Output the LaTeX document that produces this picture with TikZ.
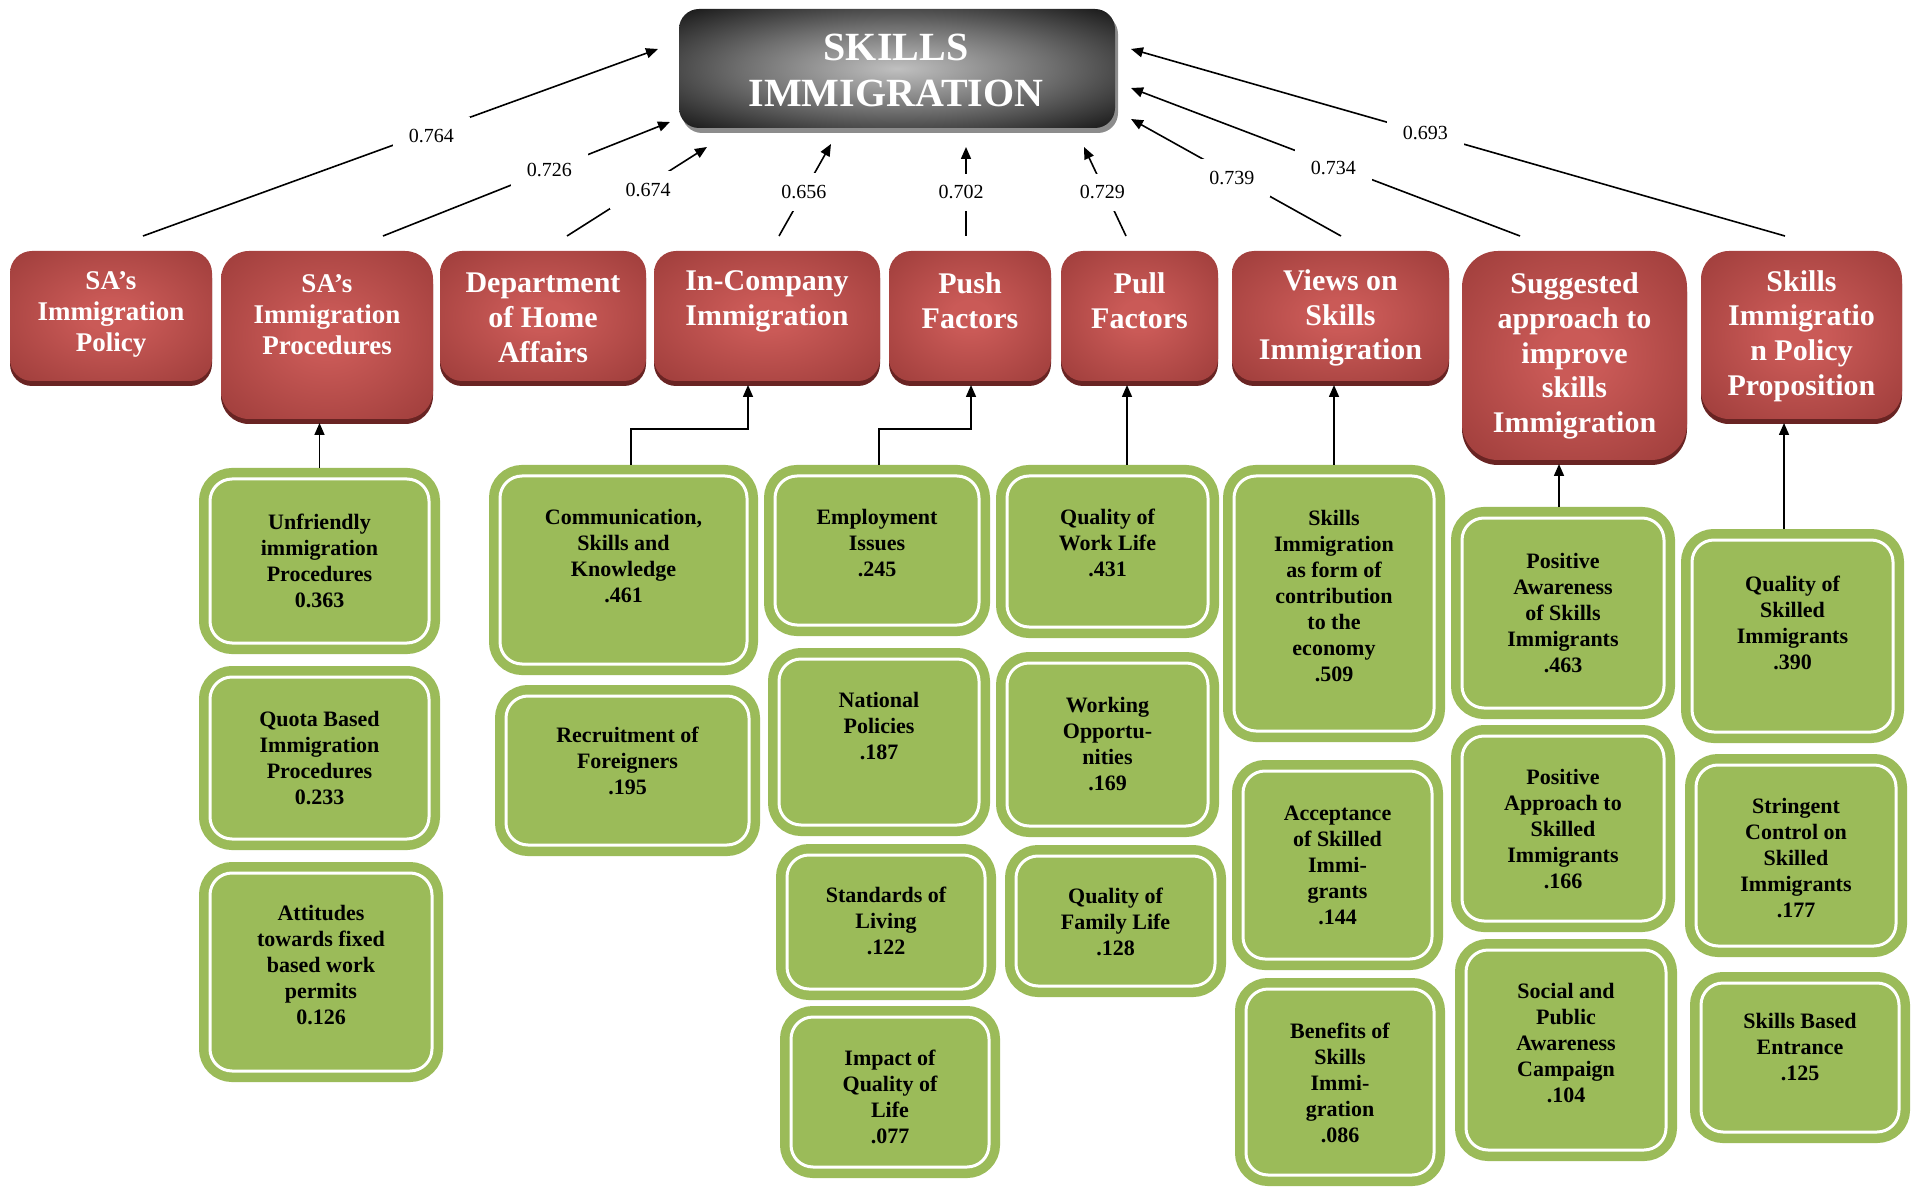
\documentclass[tikz,border=0pt]{standalone}
\usepackage{fontspec}
\setmainfont{Liberation Serif}
\usetikzlibrary{arrows.meta,shadows,calc}

\definecolor{redin}{RGB}{202,90,87}
\definecolor{redout}{RGB}{146,53,51}
\definecolor{redshadow}{RGB}{105,36,35}
\definecolor{grn}{RGB}{155,187,89}
\definecolor{cin}{RGB}{192,192,192}
\definecolor{cmid}{RGB}{110,110,110}
\definecolor{cshadow}{RGB}{140,140,140}

\pgfdeclareradialshading{redglow}{\pgfpoint{0bp}{0bp}}{color(0bp)=(redin); color(6bp)=(redin); color(44bp)=(redout); color(50bp)=(redout)}
\pgfdeclareradialshading{blackglow}{\pgfpoint{0bp}{0bp}}{color(0bp)=(cin); color(18bp)=(cmid); color(40bp)=(black); color(50bp)=(black)}

\begin{document}
\begin{tikzpicture}[x=0.5pt,y=-0.5pt,
  redbox/.style={shade, shading=redglow, general shadow={fill=redshadow, shadow yshift=-2.5pt}, inner sep=0pt, outer sep=0pt, rounded corners=11pt},
  cbox/.style={shade, shading=blackglow, general shadow={fill=cshadow, shadow xshift=1.5pt, shadow yshift=-2.5pt}, inner sep=0pt, outer sep=0pt, rounded corners=10pt},
  gbox/.style={fill=grn, draw=white, line width=1.5pt, preaction={draw=grn, line width=11pt}, outer sep=5.5pt, inner sep=0pt, rounded corners=11pt},
  redtxt/.style={text=white, font=\fontsize{13.5}{15.5}\selectfont\bfseries, align=center, inner sep=0pt},
  redbig/.style={redtxt, font=\fontsize{15}{17.4}\selectfont\bfseries},
  gtxt/.style={text=black, font=\fontsize{11}{13}\selectfont\bfseries, align=center, inner sep=0pt},
  ctxt/.style={text=white, font=\fontsize{20}{23}\selectfont\bfseries, align=center, inner sep=0pt},
  lbl/.style={font=\fontsize{10}{12}\selectfont, fill=white, inner xsep=8pt, inner ysep=6pt},
  arr/.style={line width=0.8pt, -{Triangle[length=6pt,width=5pt]}},
  con/.style={line width=0.8pt, -{Triangle[length=6pt,width=5pt]}}
]
\useasboundingbox (0,0) rectangle (1917,1187);

% central node
\node[cbox, minimum width=218pt, minimum height=59.5pt] (si) at (897,68.5) {};
\node[ctxt] (sit) at (896,70) {SKILLS\\IMMIGRATION};

% red category nodes
\node[redbox, minimum width=101pt, minimum height=65pt] (r1) at (111,316) {};
\node[redbox, minimum width=106pt, minimum height=84pt, rounded corners=14pt] (r2) at (327,335) {};
\node[redbox, minimum width=103pt, minimum height=65pt] (r3) at (543,316) {};
\node[redbox, minimum width=113pt, minimum height=65pt] (r4) at (767,316) {};
\node[redbox, minimum width=81pt, minimum height=65pt] (r5) at (970,316) {};
\node[redbox, minimum width=78.5pt, minimum height=65pt] (r6) at (1139.5,316) {};
\node[redbox, minimum width=108.5pt, minimum height=65pt] (r7) at (1340.5,316) {};
\node[redbox, minimum width=112.5pt, minimum height=104.5pt, rounded corners=18pt] (r8) at (1574.5,355.5) {};
\node[redbox, minimum width=100.5pt, minimum height=84pt, rounded corners=14pt] (r9) at (1801.5,335) {};

\node[redtxt] (r1t) at (111,314) {SA’s\\Immigration\\Policy};
\node[redtxt] (r2t) at (327,315) {SA’s\\Immigration\\Procedures};
\node[redbig] (r3t) at (543,318) {Department\\of Home\\Affairs};
\node[redbig] (r4t) at (767,301) {In-Company\\Immigration};
\node[redbig] (r5t) at (970,301) {Push\\Factors};
\node[redbig] (r6t) at (1139.5,301) {Pull\\Factors};
\node[redbig] (r7t) at (1340.5,318) {Views on\\Skills\\Immigration};
\node[redbig] (r8t) at (1574.5,356) {Suggested\\approach to\\improve\\skills\\Immigration};
\node[redbig] (r9t) at (1801.5,336) {Skills\\Immigratio\\n Policy\\Proposition};

% green factor nodes
\node[gbox, minimum width=109.5pt, minimum height=82pt] (g21) at (319.5,561) {};
\node[gbox, minimum width=109.5pt, minimum height=81pt] (g22) at (319.5,758) {};
\node[gbox, minimum width=111pt, minimum height=99pt] (g23) at (321,972) {};
\node[gbox, minimum width=123.5pt, minimum height=94pt] (g41) at (623.5,570) {};
\node[gbox, minimum width=121.5pt, minimum height=74.5pt] (g42) at (627.5,770.5) {};
\node[gbox, minimum width=102pt, minimum height=74.5pt] (g51) at (877,550.5) {};
\node[gbox, minimum width=100pt, minimum height=83pt] (g52) at (879,742) {};
\node[gbox, minimum width=99pt, minimum height=67pt] (g53) at (886,922) {};
\node[gbox, minimum width=99pt, minimum height=75pt] (g54) at (890,1092) {};
\node[gbox, minimum width=100.5pt, minimum height=75.5pt] (g61) at (1107.5,551.5) {};
\node[gbox, minimum width=100.5pt, minimum height=81.5pt] (g62) at (1107.5,744.5) {};
\node[gbox, minimum width=99.5pt, minimum height=65pt] (g63) at (1115.5,921) {};
\node[gbox, minimum width=100pt, minimum height=127.5pt] (g71) at (1334,603.5) {};
\node[gbox, minimum width=94.5pt, minimum height=94pt] (g72) at (1337.5,865) {};
\node[gbox, minimum width=94pt, minimum height=93pt] (g73) at (1340,1082) {};
\node[gbox, minimum width=101pt, minimum height=95pt] (g81) at (1563,613) {};
\node[gbox, minimum width=101pt, minimum height=92.5pt] (g82) at (1563,828.5) {};
\node[gbox, minimum width=100pt, minimum height=100pt] (g83) at (1566,1050) {};
\node[gbox, minimum width=100.5pt, minimum height=96pt] (g91) at (1792.5,636) {};
\node[gbox, minimum width=100pt, minimum height=90.5pt] (g92) at (1796,855.5) {};
\node[gbox, minimum width=99pt, minimum height=74.5pt] (g93) at (1800,1057.5) {};

\node[gtxt] (g21t) at (319.5,561) {Unfriendly\\immigration\\Procedures\\0.363};
\node[gtxt] (g22t) at (319.5,758) {Quota Based\\Immigration\\Procedures\\0.233};
\node[gtxt] (g23t) at (321,965) {Attitudes\\towards fixed\\based work\\permits\\0.126};
\node[gtxt] (g41t) at (623.5,556) {Communication,\\Skills and\\Knowledge\\.461};
\node[gtxt] (g42t) at (627.5,761) {Recruitment of\\Foreigners\\.195};
\node[gtxt] (g51t) at (877,543) {Employment\\Issues\\.245};
\node[gtxt] (g52t) at (879,726) {National\\Policies\\.187};
\node[gtxt] (g53t) at (886,921) {Standards of\\Living\\.122};
\node[gtxt] (g54t) at (890,1097) {Impact of\\Quality of\\Life\\.077};
\node[gtxt] (g61t) at (1107.5,543) {Quality of\\Work Life\\.431};
\node[gtxt] (g62t) at (1107.5,744) {Working\\Opportu-\\nities\\.169};
\node[gtxt] (g63t) at (1115.5,922) {Quality of\\Family Life\\.128};
\node[gtxt] (g71t) at (1334,596) {Skills\\Immigration\\as form of\\contribution\\to the\\economy\\.509};
\node[gtxt] (g72t) at (1337.5,865) {Acceptance\\of Skilled\\Immi-\\grants\\.144};
\node[gtxt] (g73t) at (1340,1083) {Benefits of\\Skills\\Immi-\\gration\\.086};
\node[gtxt] (g81t) at (1563,613) {Positive\\Awareness\\of Skills\\Immigrants\\.463};
\node[gtxt] (g82t) at (1563,829) {Positive\\Approach to\\Skilled\\Immigrants\\.166};
\node[gtxt] (g83t) at (1566,1043) {Social and\\Public\\Awareness\\Campaign\\.104};
\node[gtxt] (g91t) at (1792.5,623) {Quality of\\Skilled\\Immigrants\\.390};
\node[gtxt] (g92t) at (1796,858) {Stringent\\Control on\\Skilled\\Immigrants\\.177};
\node[gtxt] (g93t) at (1800,1047) {Skills Based\\Entrance\\.125};

% arrows to central node
\draw[arr] ($(r1.north)+(32,-15)$) -- node[lbl,pos=.56,yshift=-2.5pt] (l1) {0.764} ($(si.west)+(-21,-19.5)$);
\draw[arr] ($(r2.north)+(56,-15)$) -- node[lbl,pos=.58] (l2) {0.726} ($(si.south west)+(-9,-6)$);
\draw[arr] ($(r3.north)+(24,-15)$) -- node[lbl,pos=.55,yshift=-1.5pt,xshift=2pt] (l3) {0.674} ($(si.south west)+(28,19)$);
\draw[arr] ($(r4.north)+(12,-15)$) -- node[lbl,pos=.48] (l4) {0.656} ($(si.south)+(-66,16)$);
\draw[arr] ($(r5.north)+(-4,-15)$) -- node[lbl,pos=.49,xshift=-2.5pt] (l5) {0.702} ($(si.south)+(69,19)$);
\draw[arr] ($(r6.north)+(-13.5,-15)$) -- node[lbl,pos=.49,xshift=-1.5pt] (l6) {0.729} ($(si.south east)+(-31,19)$);
\draw[arr] ($(r7.north)+(0.5,-15)$) -- node[lbl,pos=.52,yshift=-1.5pt] (l7) {0.739} ($(si.south east)+(16,-9)$);
\draw[arr] ($(r8.north)+(-54.5,-15)$) -- node[lbl,pos=.48,yshift=-1.5pt] (l8) {0.734} ($(si.east)+(16,19.5)$);
\draw[arr] ($(r9.north)+(-16.5,-15)$) -- node[lbl,pos=.55] (l9) {0.693} ($(si.east)+(16,-19.5)$);

% connectors from factors to categories
\draw[con] (g21.north) -- ($(g21.north |- r2.south)+(0,4)$);
\draw[con] ($(g41.north)+(7.5,0)$) -- ++(0,-36) -| ($(r4.south)+(-19,4)$);
\draw[con] ($(g51.north)+(2,0)$) -- ++(0,-36) -| ($(r5.south)+(1,4)$);
\draw[con] ($(g61.north)+(19.5,0)$) -- ($(r6.south)+(-12.5,4)$);
\draw[con] (g71.north) -- ($(r7.south)+(-6.5,4)$);
\draw[con] ($(g81.north)+(-4,0)$) -- ($(r8.south)+(-15.5,4)$);
\draw[con] ($(g91.north)+(-8.5,0)$) -- ($(r9.south)+(-17.5,4)$);
\end{tikzpicture}
\end{document}
